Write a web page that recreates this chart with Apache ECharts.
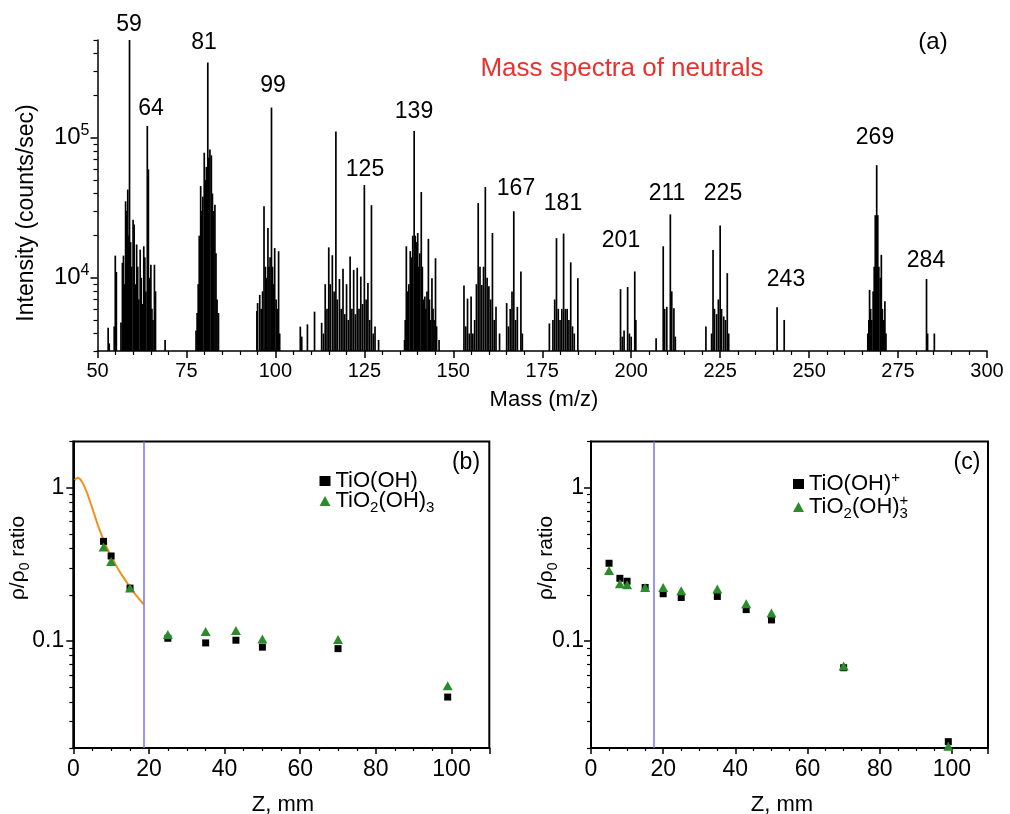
<!DOCTYPE html>
<html><head><meta charset="utf-8">
<script src="https://cdn.jsdelivr.net/npm/echarts@6/dist/echarts.min.js"></script>
<style>html,body{margin:0;padding:0;background:#fff}#c{width:1010px;height:814px}</style>
</head><body><div id="c"></div>
<script>
// ---------------- DATA ----------------
// (a) mass spectrum: [mass (m/z), intensity (counts/sec)]
const specA = [[53,4400],[53.3,3400],[54.7,4500],[55,14400],[55.3,11000],[56.6,4800],[57,12800],[57.3,14400],[57.6,9000],[57.9,35200],[58.2,30000],[58.5,42700],[58.8,20000],[59,500000],[59.3,18000],[59.6,12000],[60,26000],[60.3,24000],[60.6,9000],[61,17300],[61.3,12000],[61.6,7000],[62,15900],[62.3,10000],[62.6,6500],[63,16800],[63.3,14000],[63.6,8000],[64,121500],[64.3,59500],[64.6,10000],[65,12400],[65.3,6000],[65.6,5000],[66,12400],[66.3,8000],[69,3600]];
const specB = [[77.7,4200],[78,5600],[78.3,9000],[78.6,20000],[79,45200],[79.3,30000],[79.6,38000],[80,78300],[80.3,50000],[80.6,62000],[81,346000],[81.3,72000],[81.6,82700],[82,75000],[82.3,40000],[82.6,30000],[83,33300],[83.3,15000],[83.6,7000],[84,5600]];
const specC = [[94.8,5800],[95,6600],[95.6,7550],[96,6000],[96.4,8000],[96.8,32400],[97.2,12000],[97.5,10000],[97.9,22700],[98.2,12000],[98.5,14000],[98.9,164500],[99.2,12000],[99.5,9000],[99.8,16300],[100.2,7000],[100.5,6000],[100.9,15500],[101.2,4000]];
const specD = [[107,4480],[107.4,3800],[109,4650],[111,5730],[113,4770],[113.5,4000],[114,9000],[114.5,6000],[115,16500],[115.4,9000],[116,14500],[116.5,8000],[117,110800],[117.4,7000],[118,9800],[118.5,6000],[119,11600],[119.5,5500],[120,9000],[120.5,5000],[121,14200],[121.5,6000],[122,11400],[122.5,5500],[123,11800],[123.5,6000],[124,10200],[124.5,6500],[125,46000],[125.5,7000],[126,9200],[126.5,5000],[127,33000],[127.5,4000],[128,4480],[129,3600]];
const specE = [[136.3,3600],[136.5,5000],[136.8,16800],[137.2,8000],[137.5,9000],[137.9,15500],[138.3,14000],[138.6,20000],[139,112000],[139.3,20000],[139.6,18000],[140,20900],[140.3,12000],[140.6,15000],[141,41000],[141.3,12000],[141.6,7000],[142,7350],[142.3,6000],[142.6,8000],[143,19000],[143.3,7000],[143.6,5000],[144,9940],[144.3,6000],[144.6,5000],[145,13800],[145.3,4500],[146,3600]];
const specF = [[153,8800],[153.5,4500],[154,7100],[154.5,4000],[155,7350],[155.5,4000],[156,5000],[156.5,9000],[157,34200],[157.5,12000],[158,8900],[158.5,12000],[159,44500],[159.5,10000],[160,8700],[160.5,7000],[161,20900],[161.5,5000],[162,6200],[163,4000],[165,6600],[165.5,4500],[166,6000],[166.5,8000],[167,29900],[167.5,5000],[168,6200],[169,11100],[169.4,4000]];
const specG = [[177,4720],[178,5000],[178.5,7000],[179,19200],[179.5,6000],[180,5000],[180.5,6000],[181,20700],[181.5,6000],[182,6000],[182.5,5000],[183,12900],[183.5,4500],[184,4000],[185,9940]];
const specH = [[197,8300],[197.5,3800],[198,4200],[199,8600],[199.5,4000],[200,3800],[201,11100],[201.3,5000]];
const specI = [[207,3700],[209,16800],[209.4,6000],[210,6200],[211,28400],[211.4,8000],[212,6060],[212.4,3800]];
const specJ = [[221,4480],[222.6,4000],[223,15800],[223.4,6000],[224,5500],[224.5,7000],[225,23600],[225.4,6000],[226,5300],[226.5,5000],[227,10800],[227.4,4000]];
const specK = [[241,6150],[243,5000]];
const specL = [[266.5,4000],[266.8,5000],[267,8200],[267.3,6000],[267.6,5000],[268,8000],[268.3,12000],[268.6,28000],[269,63800],[269.3,28000],[269.6,12000],[270,10000],[270.3,14600],[270.6,6000],[271,5000],[271.3,6800],[271.6,4000]];
const specM = [[283,9800],[283.3,4000],[285.2,4000]];
const spectrum = [].concat(specA, specB, specC, specD, specE, specF, specG, specH, specI, specJ, specK, specL, specM);

const massMin = 50, massMax = 300, massStep = 25;
const intensityMin = 3000, intensityMax = 500000;
const intensityMajorTicks = [1e4, 1e5];
const intensityMinorTicks = [3000,4000,5000,6000,7000,8000,9000,20000,30000,40000,50000,60000,70000,80000,90000,200000,300000,400000,500000];
const peakLabels = ['59','64','81','99','125','139','167','181','201','211','225','243','269','284'];

// (b) neutrals
const bZ = [8, 10, 15, 25, 35, 43, 50, 70, 99];
const bTiOOH = [0.446, 0.358, 0.221, 0.104, 0.097, 0.101, 0.091, 0.089, 0.043];
const bTiO2OH3 = [0.41, 0.33, 0.221, 0.110, 0.115, 0.117, 0.103, 0.102, 0.051];
const bFitZ = [0.4, 1.2, 2.2, 3.2, 4.3, 5.3, 6.5, 7.8, 9, 10.5, 12, 13.5, 15, 16.8, 18.6];
const bFitRatio = [1.12, 1.16, 1.10, 0.98, 0.83, 0.70, 0.57, 0.47, 0.40, 0.34, 0.29, 0.255, 0.224, 0.196, 0.173];
const bBoundary = 18.7;

// (c) ions
const cZ = [5, 8, 10, 15, 20, 25, 35, 43, 50, 70, 99];
const cTiOOH = [0.321, 0.256, 0.245, 0.223, 0.203, 0.192, 0.195, 0.160, 0.137, 0.0668, 0.022];
const cTiO2OH3 = [0.288, 0.236, 0.232, 0.223, 0.223, 0.212, 0.218, 0.175, 0.152, 0.0685, 0.0205];
const cBoundary = 17.4;

const zMin = 0, zMax = 110, zStep = 20;
const ratioMin = 0.02, ratioMax = 2;
const ratioMajorTicks = [0.1, 1];
const ratioMinorTicks = [0.02,0.03,0.04,0.05,0.06,0.07,0.08,0.09,0.2,0.3,0.4,0.5,0.6,0.7,0.8,0.9,2];

// ---------------- STYLE / LAYOUT ----------------
const FONT = '"Liberation Sans", Arial, Helvetica, sans-serif';
const BLACK = '#000';
const GREEN = '#2a8c2a';
const ORANGE = '#f0901e';
const BLUE = '#7a70ee';

const peakLabelPos = [[129,25],[151,109],[204,43],[273,86],[365,170],[414,112],[516,189],[563,204],[621,241],[667,194],[723,194],[786,280],[875,138],[926,261]];

const zip = (a, b) => a.map((v, i) => [v, b[i]]);

function renderStick(params, api) {
  const m = api.value(0), v = api.value(1);
  const top = api.coord([m, v]);
  const base = api.coord([m, intensityMin]);
  return { type: 'line', shape: { x1: top[0], y1: top[1], x2: base[0], y2: base[1] },
           style: { stroke: BLACK, lineWidth: 1.7 } };
}

const legendRich = {
  a:   { fontSize: 22, fontFamily: FONT, color: BLACK, lineHeight: 28, verticalAlign: 'middle' },
  sub: { fontSize: 15, fontFamily: FONT, color: BLACK, lineHeight: 14, verticalAlign: 'bottom' },
  sup: { fontSize: 15, fontFamily: FONT, color: BLACK, lineHeight: 12, verticalAlign: 'top' },
  supz:{ fontSize: 15, fontFamily: FONT, color: BLACK, lineHeight: 12, verticalAlign: 'top', width: 0, align: 'left' }
};
const legendText = {
  'TiO(OH)': '{a|TiO(OH)}',
  'TiO2(OH)3': '{a|TiO}{sub|2}{a|(OH)}{sub|3}',
  'TiO(OH)+': '{a|TiO(OH)}{sup|+}',
  'TiO2(OH)3+': '{a|TiO}{sub|2}{a|(OH)}{supz|+}{sub|3}'
};

function ratioXAxis(grid) {
  return {
    gridIndex: grid, type: 'value', min: zMin, max: zMax, interval: zStep,
    axisLine: { onZero: false, lineStyle: { color: BLACK, width: 2 } },
    axisTick: { length: 6, lineStyle: { color: BLACK, width: 1.5 } },
    minorTick: { show: true, splitNumber: 4, length: 3, lineStyle: { color: BLACK, width: 1.2 } },
    axisLabel: { color: BLACK, fontSize: 23, fontFamily: FONT, margin: 10, showMaxLabel: false },
    splitLine: { show: false }
  };
}
function ratioYAxes(grid, margin) {
  return [{
    gridIndex: grid, type: 'log', logBase: 10, min: ratioMin, max: ratioMax, position: 'left',
    axisLine: { lineStyle: { color: BLACK, width: 2 } },
    axisTick: { customValues: ratioMajorTicks, length: 7, lineStyle: { color: BLACK, width: 1.5 } },
    axisLabel: { customValues: ratioMajorTicks, color: BLACK, fontSize: 23, fontFamily: FONT, margin: margin,
                 formatter: v => String(v) },
    splitLine: { show: false }
  }, {
    gridIndex: grid, type: 'log', logBase: 10, min: ratioMin, max: ratioMax, position: 'left', offset: 0,
    axisLine: { show: false },
    axisTick: { customValues: ratioMinorTicks, length: 4, lineStyle: { color: BLACK, width: 1.2 } },
    axisLabel: { show: false }, splitLine: { show: false }
  }];
}

function text(t, x, y, size, color, extra) {
  return Object.assign({ type: 'text', x: x, y: y, silent: true,
    style: { text: t, font: size + 'px ' + FONT, fill: color || BLACK, align: 'center', verticalAlign: 'middle' } }, extra || {});
}
const ratioTitleRich = {
  a:   { fontSize: 21, fontFamily: FONT, fill: BLACK, lineHeight: 28, verticalAlign: 'middle' },
  sub: { fontSize: 14, fontFamily: FONT, fill: BLACK, lineHeight: 14, verticalAlign: 'bottom' }
};
function ratioTitle(x, y) {
  return { type: 'text', x: x, y: y, rotation: Math.PI / 2, silent: true,
    style: { text: '{a|ρ/ρ}{sub|0}{a| ratio}', rich: ratioTitleRich, align: 'center', verticalAlign: 'middle', fill: BLACK } };
}

const graphics = [];
peakLabels.forEach((t, i) => graphics.push(text(t, peakLabelPos[i][0], peakLabelPos[i][1], 23)));
graphics.push(text('Mass spectra of neutrals', 622, 69, 26, '#e8322c'));
graphics.push(text('(a)', 933, 42, 24));
graphics.push(text('Intensity (counts/sec)', 27, 213, 23, BLACK, { rotation: Math.PI / 2 }));
graphics.push(text('Mass (m/z)', 544, 400, 22));
graphics.push(text('(b)', 466, 463, 23));
graphics.push(text('(c)', 967, 463, 23));
graphics.push(text('Z, mm', 283, 805, 22));
graphics.push(text('Z, mm', 782, 805, 22));
graphics.push(ratioTitle(18, 558));
graphics.push(ratioTitle(546, 558));

const legendBase = {
  orient: 'vertical', top: 465, itemWidth: 11, itemHeight: 10, itemGap: -2, selectedMode: false,
  formatter: n => legendText[n], textStyle: { fontSize: 22, fontFamily: FONT, color: BLACK, rich: legendRich }
};

const option = {
  animation: false,
  backgroundColor: '#fff',
  textStyle: { fontFamily: FONT },
  grid: [
    { left: 97.5, top: 40, width: 889.5, height: 311 },
    { left: 73.3, top: 441.5, width: 416, height: 306.5, show: true, borderColor: BLACK, borderWidth: 2 },
    { left: 591, top: 441.5, width: 397, height: 306.5, show: true, borderColor: BLACK, borderWidth: 2 }
  ],
  xAxis: [
    {
      gridIndex: 0, type: 'value', min: massMin, max: massMax, interval: massStep,
      axisLine: { onZero: false, lineStyle: { color: BLACK, width: 1.5 } },
      axisTick: { length: 7, lineStyle: { color: BLACK, width: 1.5 } },
      minorTick: { show: true, splitNumber: 5, length: 4, lineStyle: { color: BLACK, width: 1.2 } },
      axisLabel: { color: BLACK, fontSize: 20, fontFamily: FONT, margin: 10 },
      splitLine: { show: false }
    },
    ratioXAxis(1),
    ratioXAxis(2)
  ],
  yAxis: [
    {
      gridIndex: 0, type: 'log', logBase: 10, min: intensityMin, max: intensityMax, position: 'left',
      axisLine: { lineStyle: { color: BLACK, width: 1.5 } },
      axisTick: { customValues: intensityMajorTicks, length: 7, lineStyle: { color: BLACK, width: 1.5 } },
      axisLabel: {
        customValues: intensityMajorTicks, margin: 8,
        formatter: v => '{n|10}{s|' + Math.round(Math.log10(v)) + '}',
        rich: {
          n: { fontSize: 24, fontFamily: FONT, color: BLACK, lineHeight: 30, verticalAlign: 'middle' },
          s: { fontSize: 16, fontFamily: FONT, color: BLACK, lineHeight: 11, verticalAlign: 'top' }
        }
      },
      splitLine: { show: false }
    },
    {
      gridIndex: 0, type: 'log', logBase: 10, min: intensityMin, max: intensityMax, position: 'left', offset: 0,
      axisLine: { show: false },
      axisTick: { customValues: intensityMinorTicks, length: 4, lineStyle: { color: BLACK, width: 1.2 } },
      axisLabel: { show: false }, splitLine: { show: false }
    }
  ].concat(ratioYAxes(1, 9), ratioYAxes(2, 7)),
  legend: [
    Object.assign({ data: ['TiO(OH)', 'TiO2(OH)3'], left: 314.5 }, legendBase),
    Object.assign({ data: ['TiO(OH)+', 'TiO2(OH)3+'], left: 788 }, legendBase)
  ],
  graphic: graphics,
  series: [
    {
      type: 'custom', name: 'spectrum', xAxisIndex: 0, yAxisIndex: 0, clip: true,
      encode: { x: 0, y: 1 }, data: spectrum, renderItem: renderStick, silent: true
    },
    {
      type: 'line', name: 'fit', xAxisIndex: 1, yAxisIndex: 2, smooth: true, showSymbol: false, z: 1,
      data: zip(bFitZ, bFitRatio), lineStyle: { color: ORANGE, width: 2 }, itemStyle: { color: ORANGE },
      markLine: { silent: true, symbol: 'none', label: { show: false }, lineStyle: { color: BLUE, width: 1.5, type: 'solid' },
                  data: [{ xAxis: bBoundary }] }
    },
    {
      type: 'scatter', name: 'TiO(OH)', xAxisIndex: 1, yAxisIndex: 2, symbol: 'rect', symbolSize: 7, z: 3,
      itemStyle: { color: BLACK, opacity: 1 }, data: zip(bZ, bTiOOH)
    },
    {
      type: 'scatter', name: 'TiO2(OH)3', xAxisIndex: 1, yAxisIndex: 2, symbol: 'triangle', symbolSize: [10, 9], z: 4,
      itemStyle: { color: GREEN, opacity: 1 }, data: zip(bZ, bTiO2OH3)
    },
    {
      type: 'scatter', name: 'TiO(OH)+', xAxisIndex: 2, yAxisIndex: 4, symbol: 'rect', symbolSize: 7, z: 3,
      itemStyle: { color: BLACK, opacity: 1 }, data: zip(cZ, cTiOOH),
      markLine: { silent: true, symbol: 'none', label: { show: false }, lineStyle: { color: BLUE, width: 1.5, type: 'solid' },
                  data: [{ xAxis: cBoundary }] }
    },
    {
      type: 'scatter', name: 'TiO2(OH)3+', xAxisIndex: 2, yAxisIndex: 4, symbol: 'triangle', symbolSize: [10, 9], z: 4,
      itemStyle: { color: GREEN, opacity: 1 }, data: zip(cZ, cTiO2OH3)
    }
  ]
};

const chart = echarts.init(document.getElementById('c'), null, { renderer: 'canvas' });
chart.setOption(option);
</script></body></html>
